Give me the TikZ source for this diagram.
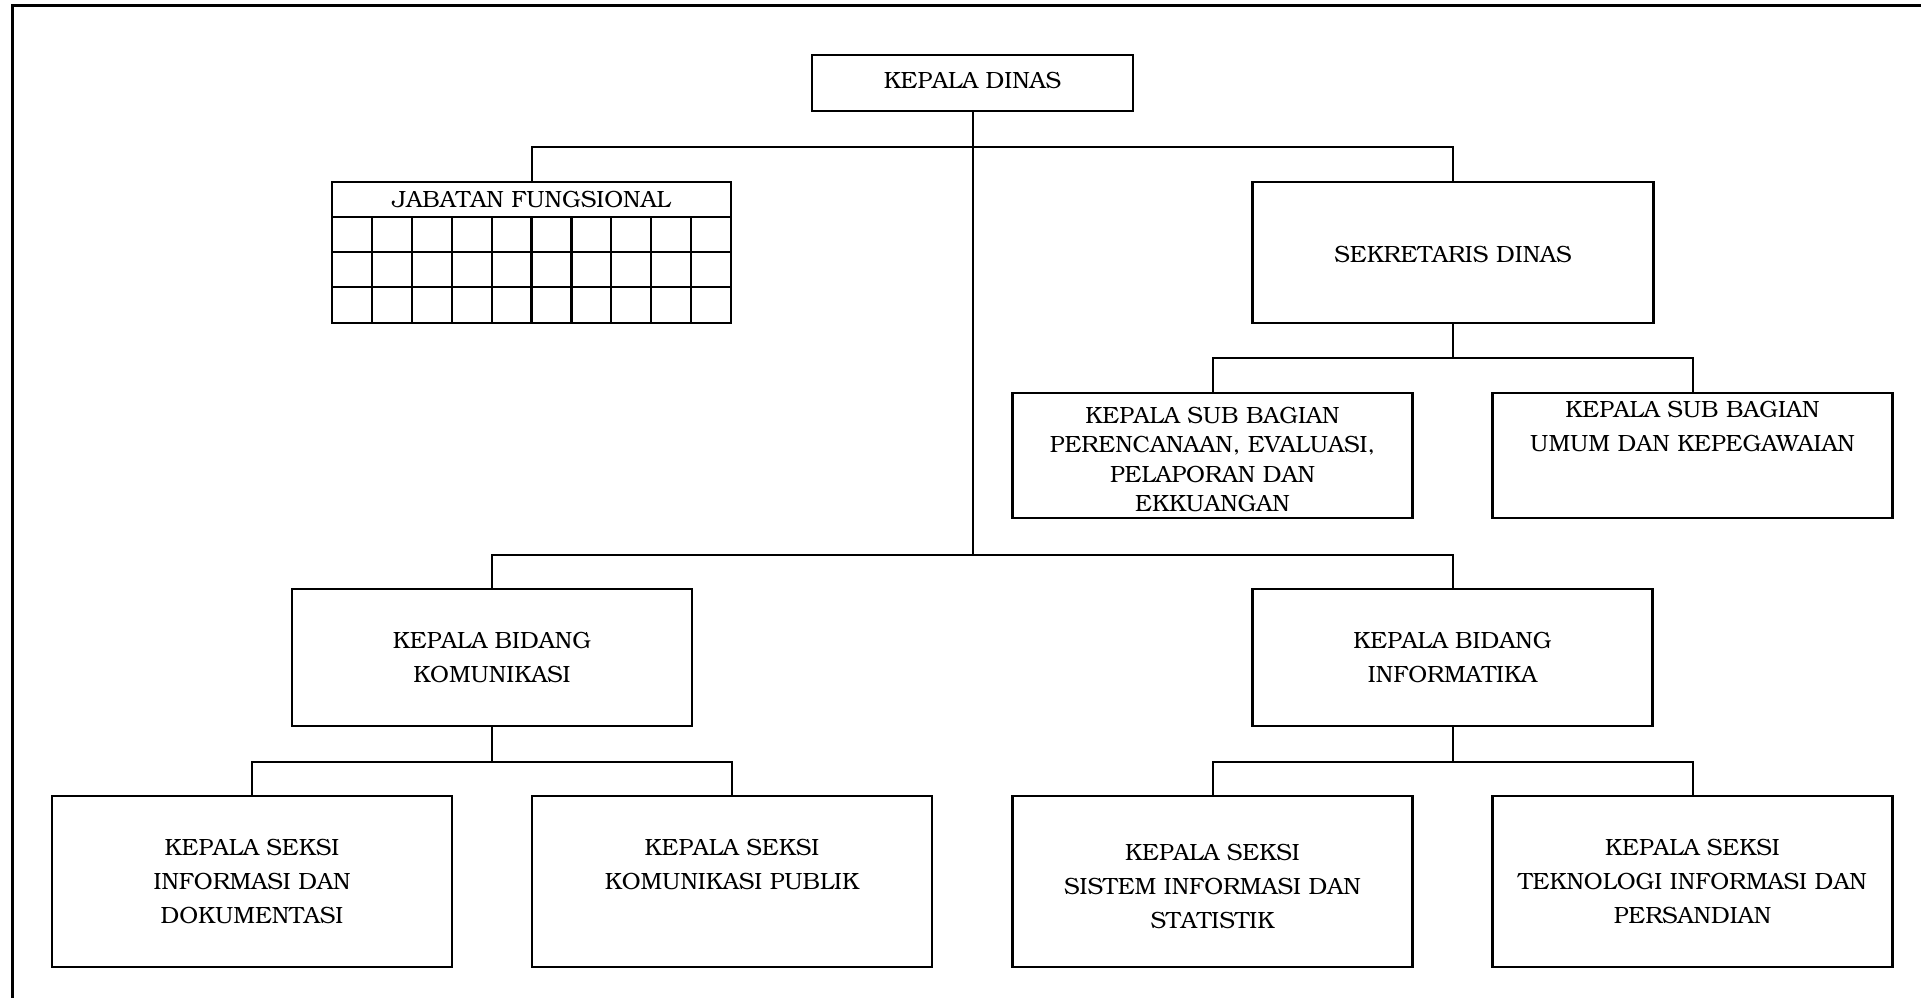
\documentclass[tikz,border=0pt]{standalone}
\usepackage[T1]{fontenc}
\usepackage{bookman}
\tikzset{
  unit/.style={draw, line width=2.2pt, align=center, inner sep=0pt, outer sep=0pt,
    minimum width=400pt, minimum height=171pt, font=\fontsize{23.5}{34}\selectfont},
  link/.style={line width=2pt},
  frame/.style={line width=3.2pt}
}
\begin{document}
\begin{tikzpicture}[x=1pt,y=-1pt]
  \useasboundingbox (0,0) rectangle (1921,998);
  \draw[frame] (1921,5.5) -| (12.5,998);

  \node[unit, minimum width=321pt, minimum height=56pt, text depth=5pt] (dinas) at (972.5,83) {KEPALA DINAS};
  \node[unit, minimum width=399pt, minimum height=34.5pt] (jf) at (531.5,199.5) {JABATAN FUNGSIONAL};
  \node[unit, minimum width=401pt, minimum height=141pt] (sekre) at (1453,252.5)
    {\rule{0pt}{21pt}SEKRETARIS DINAS};
  \node[unit, minimum height=125pt, font=\fontsize{23.5}{29.5}\selectfont] (sub1) at (1212.5,455.5)
    {\rule{0pt}{24pt}KEPALA SUB BAGIAN\\PERENCANAAN, EVALUASI,\\PELAPORAN DAN\\EKKUANGAN};
  \node[unit, minimum height=125pt,
    label={[anchor=north, inner sep=8pt, align=center, font=\fontsize{23.5}{34}\selectfont]north:KEPALA SUB BAGIAN\\UMUM DAN KEPEGAWAIAN}]
    (sub2) at (1692.5,455.5) {};
  \node[unit, minimum height=137pt] (bid1) at (492,657.5) {KEPALA BIDANG\\KOMUNIKASI};
  \node[unit, minimum height=137pt] (bid2) at (1452.5,657.5) {KEPALA BIDANG\\INFORMATIKA};
  \node[unit] (ks1) at (252,881.5) {KEPALA SEKSI\\INFORMASI DAN\\DOKUMENTASI};
  \node[unit] (ks2) at (732,881.5) {KEPALA SEKSI\\KOMUNIKASI PUBLIK\\\mbox{}};
  \node[unit] (ks3) at (1212.5,881.5) {\rule{0pt}{26pt}KEPALA SEKSI\\SISTEM INFORMASI DAN\\STATISTIK};
  \node[unit] (ks4) at (1692.5,881.5) {KEPALA SEKSI\\TEKNOLOGI INFORMASI DAN\\PERSANDIAN};

  % kotak jabatan fungsional
  \draw[line width=2.2pt] (jf.south west) rectangle ++(399,106);
  \foreach \r in {35.5,70.5}
    \draw[line width=2.2pt] (jf.south west) ++(0,\r) -- ++(399,0);
  \foreach \c in {1,...,9}
    \draw[line width=2.2pt] (jf.south west) ++(\c*39.9,0) -- ++(0,106);

  \path (dinas.south) ++(0,36) coordinate (bus1);
  \path (dinas.south) ++(0,444) coordinate (bus3);
  \path (sekre.south) ++(0,35) coordinate (bus2);
  \path (bid1.south) ++(0,36) coordinate (bus4);
  \path (bid2.south) ++(0,36) coordinate (bus5);

  \draw[link] (dinas.south) -- (bus3);
  \draw[link] (jf.north) |- (bus1) -| (sekre.north);
  \draw[link] (sekre.south) -- (bus2);
  \draw[link] (sub1.north) |- (bus2) -| (sub2.north);
  \draw[link] (bid1.north) |- (bus3) -| (bid2.north);
  \draw[link] (bid1.south) -- (bus4);
  \draw[link] (ks1.north) |- (bus4) -| (ks2.north);
  \draw[link] (bid2.south) -- (bus5);
  \draw[link] (ks3.north) |- (bus5) -| (ks4.north);
\end{tikzpicture}
\end{document}
